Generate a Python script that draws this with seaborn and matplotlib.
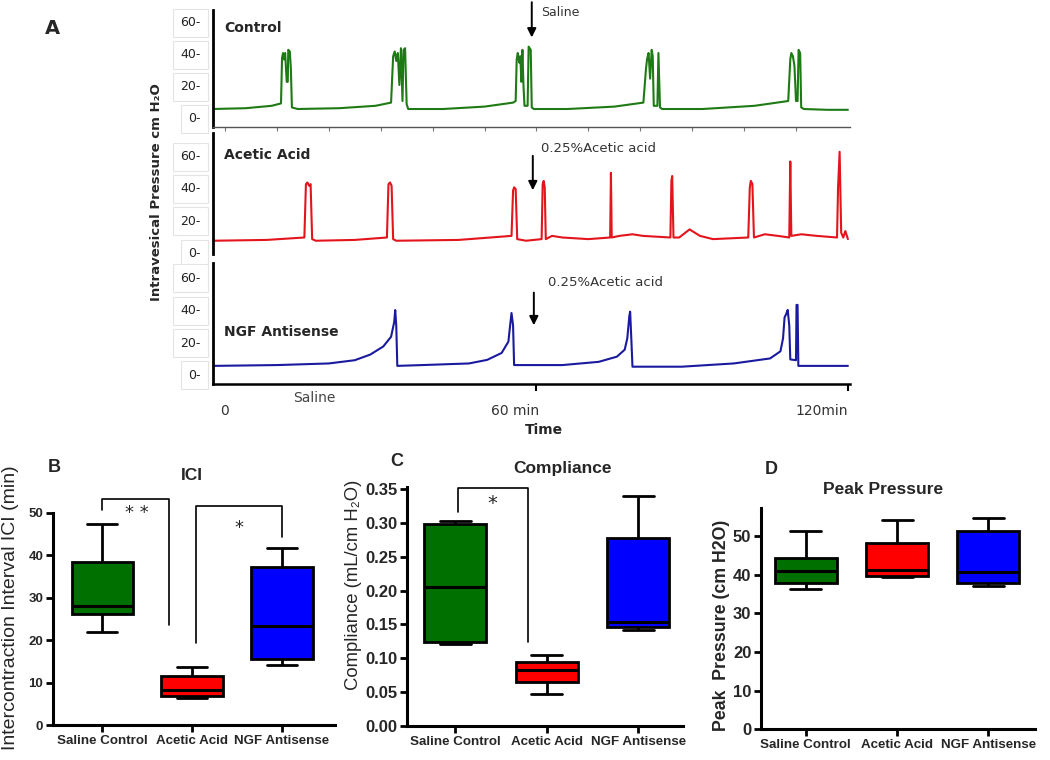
import numpy as np
import pandas as pd
import matplotlib.pyplot as plt
import seaborn as sns

# ---- panel A traces: (time min, pressure cm H2O) ----
ctrl_t = [-2.3, 4, 9, 10.8, 11.0, 11.2, 11.4, 11.6, 11.9, 12.1, 12.2, 12.5, 12.7, 12.9, 14, 22, 29, 32,
          32.4, 32.7, 33.0, 33.3, 33.6, 33.9, 34.2, 34.4, 34.7, 35.0, 35.3, 42, 50, 55.5, 56.0, 56.2, 56.4,
          56.7, 56.9, 57.1, 57.3, 57.5, 57.7, 58.3, 58.5, 58.9, 59.1, 59.5, 66, 75, 80.6, 81.1, 81.3, 81.6,
          81.9, 82.2, 82.4, 82.6, 83.3, 83.5, 83.8, 84.2, 92, 102, 108.5, 108.9, 109.1, 109.4, 109.7, 110.0,
          110.3, 110.5, 110.8, 111.0, 111.5, 116, 120]
ctrl_p = [5, 5.5, 7, 8.5, 37, 40, 36, 40, 22, 22, 42, 41, 30, 6, 5, 5.5, 7, 9,
          38, 41, 35, 40, 20, 43, 10, 42, 43, 8, 5, 5, 6.5, 9, 10, 36, 40,
          34, 38, 22, 42, 20, 7, 7, 44, 42, 6, 5, 5, 6.5, 9, 30, 36, 40,
          24, 42, 38, 7, 7, 40, 6, 5, 5, 7, 10, 36, 40, 38, 32, 10,
          10, 42, 40, 6, 5, 4.5, 4.5]

acid_t = [-2.3, 8, 15.3, 15.6, 15.9, 16.2, 16.5, 16.8, 17.5, 25, 31.2, 31.5, 31.8, 32.1, 32.4, 33, 45,
          55.2, 55.5, 55.7, 56.0, 56.3, 58, 61.0, 61.2, 61.4, 61.6, 61.8, 63, 65, 70, 74.2, 74.35, 74.5,
          76, 78.5, 80.5, 85.8, 86.0, 86.15, 86.4, 87.5, 89.5, 91.5, 94, 100.8, 101.1, 101.3, 101.6, 101.9,
          104, 106.5, 108.7, 108.9, 109.1, 111, 114, 117.9, 118.1, 118.4, 118.7, 119.1, 119.5, 120]
acid_p = [7, 7.5, 9, 42, 43, 41, 42, 8, 7, 7.5, 9, 42, 43, 41, 8, 7, 7.5,
          10, 38, 40, 39, 8, 7, 8, 42, 44, 40, 8, 10, 9, 8, 9, 49, 9,
          10, 11, 10, 9, 44, 47, 9, 9, 14, 10, 8, 9, 40, 44, 42, 9,
          11, 10, 9, 56, 10, 11, 10, 9, 40, 62, 12, 9, 13, 8]

ngf_t = [-2.3, 10, 20, 25, 28, 30.5, 32, 32.6, 32.8, 33.0, 33.2, 38, 47, 50.5, 53.3, 54.6, 55.0, 55.2,
         55.5, 55.7, 65, 72, 75.5, 77.0, 77.5, 77.9, 78.05, 78.3, 78.5, 88, 98, 105, 107.0, 107.5, 107.8,
         108.1, 108.4, 108.7, 108.9, 110.0, 110.1, 110.3, 110.45, 115, 120]
ngf_p = [5, 5.5, 6.5, 8.5, 12, 17, 23, 32, 39.5, 30, 5, 5.5, 6.5, 8.7, 13, 20, 32, 37.7,
         30, 5.5, 5.5, 7.5, 10.7, 15, 22, 36, 38.5, 20, 4.5, 4.5, 6.5, 9.6, 14, 22, 35,
         37, 39.6, 30, 9, 8.5, 42.7, 42.7, 5, 5, 5]

# ---- panels B-D: five-number summaries (min, Q1, median, Q3, max) ----
groups = ['Saline Control', 'Acetic Acid', 'NGF Antisense']
ici_saline = [22.0, 26.1, 28.1, 38.3, 47.3]
ici_acetic = [6.3, 6.8, 8.2, 11.6, 13.6]
ici_ngf = [14.1, 15.5, 23.4, 37.3, 41.8]
comp_saline = [0.121, 0.1245, 0.206, 0.298, 0.303]
comp_acetic = [0.047, 0.0645, 0.0827, 0.095, 0.105]
comp_ngf = [0.142, 0.1467, 0.153, 0.278, 0.340]
peak_saline = [36.2, 37.9, 40.9, 44.4, 51.4]
peak_acetic = [39.3, 39.7, 41.2, 48.1, 54.1]
peak_ngf = [37.1, 37.9, 40.7, 51.4, 54.7]

box_colors = ['#007000', '#ff0000', '#0000ff']
trace_colors = ['#1e7a14', '#e3141c', '#1a1a9e']

sns.set_style('white')
plt.rcParams['font.family'] = ['DejaVu Sans']

W, H = 1050, 760
fig = plt.figure(figsize=(W / 100, H / 100), dpi=100)


def px(x0, y0, x1, y1):
    # pixel rectangle (left, top, right, bottom) -> figure fraction
    return [x0 / W, 1 - y1 / H, (x1 - x0) / W, (y1 - y0) / H]


# ================= panel A =================
rows = [
    (ctrl_t, ctrl_p, 10, 127, (-6.25, 66.9), 'Control', 55.8),
    (acid_t, acid_p, 133, 254, (-1.2, 73.6), 'Acetic Acid', 59.7),
    (ngf_t, ngf_p, 263, 384, (-6.2, 68.6), 'NGF Antisense', 26.2),
]
axs_a = []
for i, (t, p, top, bot, ylim, lab, ly) in enumerate(rows):
    ax = fig.add_axes(px(213, top, 850, bot))
    sns.lineplot(x=t, y=p, ax=ax, color=trace_colors[i], lw=1.5, sort=False, estimator=None)
    ax.set_xlim(-2.3, 120.4)
    ax.set_ylim(*ylim)
    ax.set_yticks([0, 20, 40, 60])
    ax.set_yticklabels(['0-', '20-', '40-', '60-'])
    ax.tick_params(axis='y', length=0, pad=9, labelsize=9, labelcolor='#222222')
    for tl in ax.get_yticklabels():
        tl.set_bbox(dict(boxstyle='square,pad=0.6', fc='white', ec='#e4e4e4', lw=0.8))
    ax.spines['left'].set_linewidth(2)
    ax.spines['left'].set_color('black')
    for s in ['top', 'right']:
        ax.spines[s].set_visible(False)
    ax.text(-0.2, ly, lab, fontsize=10, fontweight='bold', va='center', ha='left')
    axs_a.append(ax)

# top: thin gray time base with small ticks
ax = axs_a[0]
ax.spines['bottom'].set_color('#555555')
ax.spines['bottom'].set_linewidth(1)
ax.set_xticks(np.arange(0, 120, 10))
ax.set_xticklabels([])
ax.tick_params(axis='x', length=3, color='#777777', bottom=True)
# middle: no time base
axs_a[1].spines['bottom'].set_visible(False)
axs_a[1].set_xticks([])
# bottom: time axis
ax = axs_a[2]
ax.spines['bottom'].set_linewidth(1.8)
ax.spines['bottom'].set_color('black')
ax.set_xticks([60, 120])
ax.set_xticklabels([])
ax.tick_params(axis='x', length=5, width=1.5, color='black', bottom=True)
tr = ax.get_xaxis_transform()
for xt, s in [(0, '0'), (55.9, '60 min'), (115.0, '120min')]:
    ax.text(xt, -0.22, s, transform=tr, ha='center', va='center', fontsize=10, color='#333333')
ax.text(17.3, -0.115, 'Saline', transform=tr, ha='center', va='center', fontsize=10, color='#444444')
ax.text(61.5, -0.38, 'Time', transform=tr, ha='center', va='center', fontsize=10, fontweight='bold')

# injection arrows
arrow_kw = dict(arrowstyle='-|>', color='black', lw=1.4, mutation_scale=13)
axs_a[0].annotate('', xy=(59.1, 48), xytext=(59.1, 73.5), arrowprops=arrow_kw, annotation_clip=False)
axs_a[0].text(60.9, 65.6, 'Saline', fontsize=9, color='#333333', va='center')
axs_a[1].annotate('', xy=(59.3, 36.5), xytext=(59.3, 61.2), arrowprops=arrow_kw, annotation_clip=False)
axs_a[1].text(60.9, 64.3, '0.25%Acetic acid', fontsize=9.5, color='#333333', va='center')
axs_a[2].annotate('', xy=(59.5, 28.4), xytext=(59.5, 52), arrowprops=arrow_kw, annotation_clip=False)
axs_a[2].text(62.2, 56.3, '0.25%Acetic acid', fontsize=9.5, color='#333333', va='center')

fig.text(157 / W, 1 - 192 / H, 'Intravesical Pressure cm H\u2082O', rotation=90, ha='center', va='center',
         fontsize=9.5, fontweight='bold')
fig.text(45 / W, 1 - 29 / H, 'A', fontsize=14, fontweight='bold', va='center', ha='left')

# ================= panels B-D =================
arial = ['Liberation Sans', 'DejaVu Sans']


def boxpanel(rect, vals, ylim, xlim, yticks, yfmt, tick_fs, title, title_xy, letter, letter_xy,
             ylab, ylab_xy, ylab_fs, ylab_bold):
    ax = fig.add_axes(px(*rect))
    df = pd.DataFrame({'group': np.repeat(groups, 5), 'val': np.concatenate(vals)})
    sns.boxplot(data=df, x='group', y='val', hue='group', palette=box_colors, saturation=1,
                whis=(0, 100), width=0.68, linecolor='black', linewidth=2, legend=False, ax=ax,
                medianprops=dict(linewidth=2.2))
    ax.set_ylim(*ylim)
    ax.set_xlim(*xlim)
    ax.set_yticks(yticks)
    ax.set_yticklabels([yfmt.format(v) for v in yticks])
    ax.set_xlabel('')
    ax.set_ylabel('')
    for s in ['top', 'right']:
        ax.spines[s].set_visible(False)
    for s in ['left', 'bottom']:
        ax.spines[s].set_linewidth(2.2)
        ax.spines[s].set_color('black')
    ax.tick_params(axis='both', length=5, width=2, color='black', left=True, bottom=True, pad=2)
    for tl in ax.get_yticklabels():
        tl.set_fontsize(tick_fs)
        tl.set_fontweight('bold')
        tl.set_family(arial)
    for tl in ax.get_xticklabels():
        tl.set_fontsize(9.6)
        tl.set_fontweight('bold')
        tl.set_family(arial)
    fig.text(title_xy[0] / W, 1 - title_xy[1] / H, title, ha='center', va='center', fontsize=12.5,
             fontweight='bold', family=arial)
    fig.text(letter_xy[0] / W, 1 - letter_xy[1] / H, letter, ha='left', va='center', fontsize=13,
             fontweight='bold', family=arial)
    fig.text(ylab_xy[0] / W, 1 - ylab_xy[1] / H, ylab, rotation=90, ha='center', va='center',
             fontsize=ylab_fs, fontweight='bold' if ylab_bold else 'normal', family=arial)
    return ax


def bracket(ax, x0, y0, x1, y1, ytop):
    ax.plot([x0, x0, x1, x1], [y0, ytop, ytop, y1], color='black', lw=1.2, clip_on=False)


axB = boxpanel((53, 512.7, 335, 725), [ici_saline, ici_acetic, ici_ngf], (0, 50), (-0.546, 2.59),
               [0, 10, 20, 30, 40, 50], '{:.0f}', 9.5, 'ICI', (192, 475), 'B', (48, 467),
               'Intercontraction Interval ICI (min)', (11, 608), 14, False)
bracket(axB, 0, 50.6, 0.74, 23.5, 53.3)
bracket(axB, 1.04, 19.2, 2.0, 44.2, 51.6)
axB.text(0.39, 50.0, '* *', ha='center', va='center', fontsize=13, clip_on=False)
axB.text(1.52, 46.3, '*', ha='center', va='center', fontsize=13)

axC = boxpanel((407, 486.7, 683, 726), [comp_saline, comp_acetic, comp_ngf], (0, 0.3535),
               (-0.528, 2.49), [0, 0.05, 0.10, 0.15, 0.20, 0.25, 0.30, 0.35], '{:.2f}', 12,
               'Compliance', (562, 468), 'C', (390, 461),
               'Compliance (mL/cm H\u2082O)', (353, 585), 13.3, False)
bracket(axC, 0.03, 0.3166, 0.80, 0.1245, 0.351)
axC.text(0.40, 0.329, '*', ha='center', va='center', fontsize=14)

axD = boxpanel((761, 508.3, 1035, 729.3), [peak_saline, peak_acetic, peak_ngf], (0, 57.2),
               (-0.49, 2.51), [0, 10, 20, 30, 40, 50], '{:.0f}', 12, 'Peak Pressure', (883, 490),
               'D', (765, 469), 'Peak  Pressure (cm H2O)', (721, 625), 12.8, True)

fig.savefig('out.png', dpi=100)
